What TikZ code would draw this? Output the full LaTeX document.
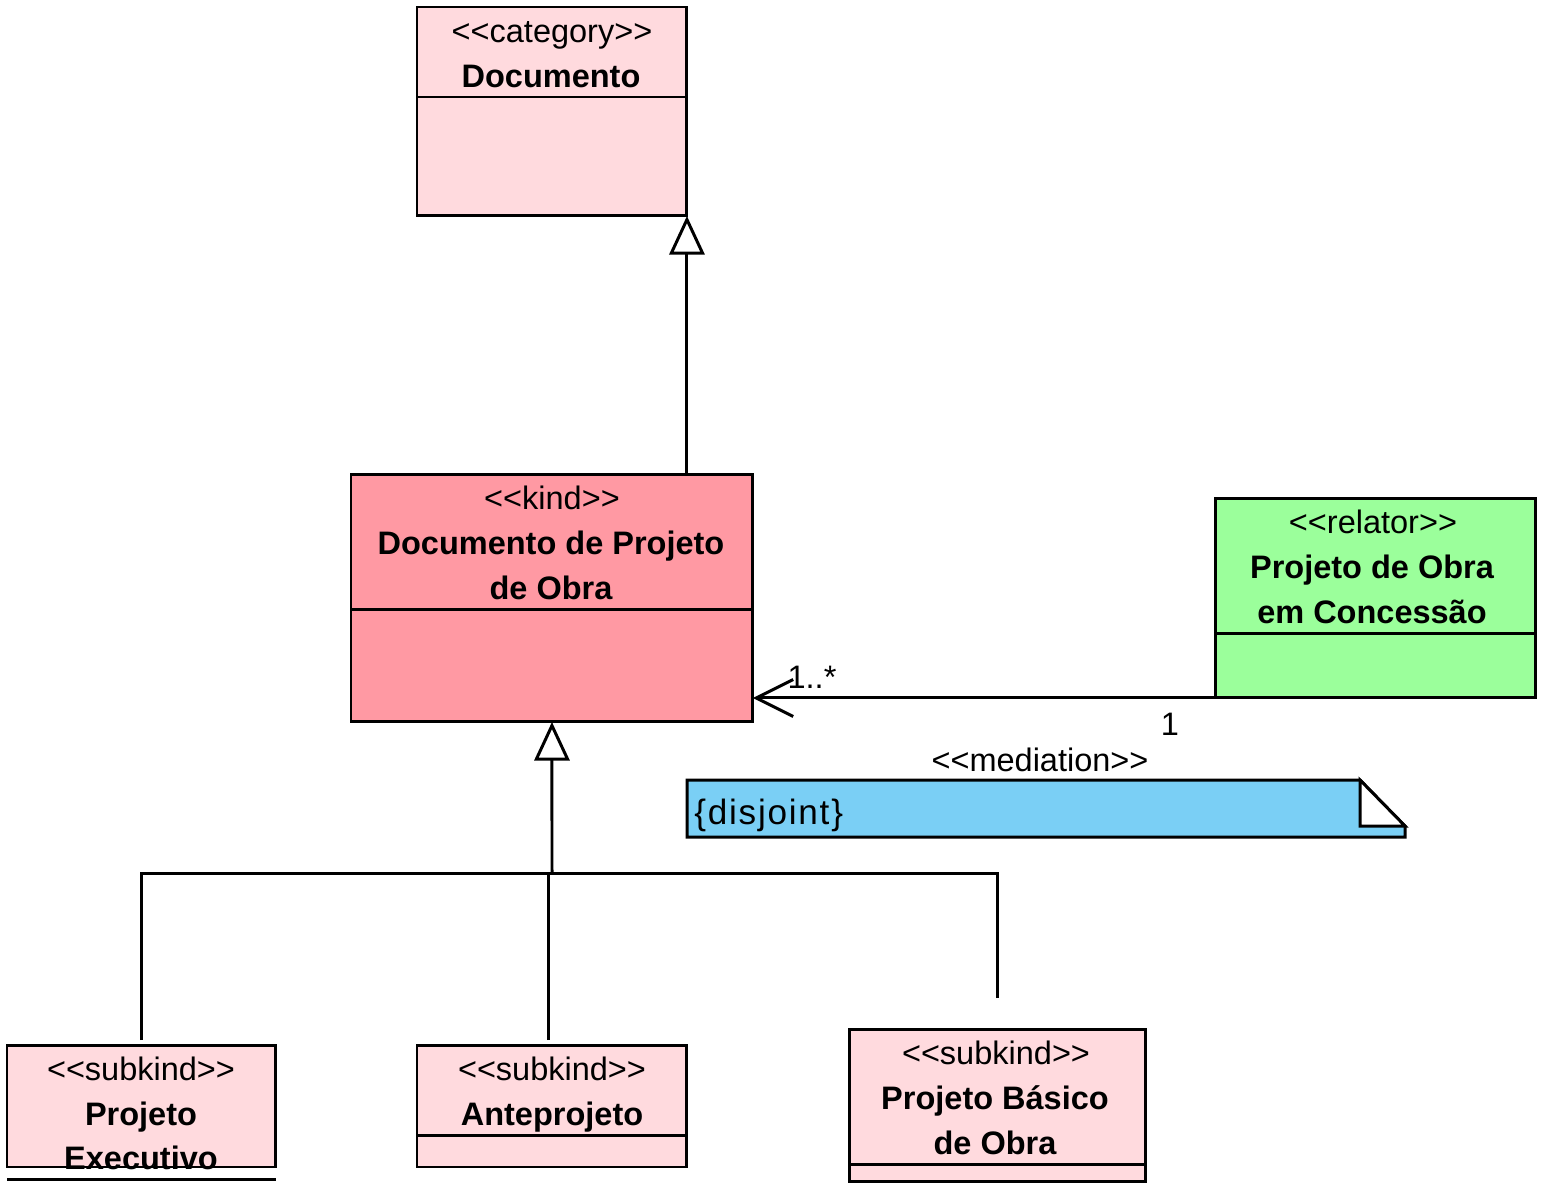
\documentclass[tikz,border=0pt]{standalone}
\usepackage{fontspec}
\setmainfont{Liberation Sans}[Ligatures=TeXOff]
\newfontfamily\notefont{Liberation Sans}[Ligatures=TeXOff,LetterSpace=5]
\usetikzlibrary{arrows.meta}

\definecolor{subpink}{RGB}{255,218,222}
\definecolor{kindpink}{RGB}{255,153,163}
\definecolor{relgreen}{RGB}{155,255,155}
\definecolor{noteblue}{RGB}{122,207,245}

\begin{document}
\begin{tikzpicture}[x=0.02cm,y=-0.02cm,
	every node/.style={font=\fontsize{18.5}{22}\selectfont},
	classbox/.style={draw,line width=1.7pt,anchor=north west,inner sep=0pt,outer sep=0pt},
	st/.style={anchor=base,inner sep=0pt},
	nm/.style={anchor=base,inner sep=0pt,font=\fontsize{18.5}{22}\selectfont\bfseries},
	conn/.style={line width=1.7pt},
	gen/.style={conn,-{Triangle[fill=white,length=22pt,width=20pt]}}]
	\useasboundingbox (0,0) rectangle (1548,1194);

	% classes
	\node[classbox,fill=subpink,minimum width=5.4cm,minimum height=4.18cm] (doc) at (417,7) {};
	\node[st] (doc-st) at (552,42) {<<category>>};
	\node[nm] (doc-nm) at (551,87) {Documento};
	\draw[conn] (doc.west |- 0,97) -- (doc.east |- 0,97);

	\node[classbox,fill=kindpink,minimum width=8.04cm,minimum height=4.96cm] (dpo) at (351,474) {};
	\node[st] (dpo-st) at (552,509) {<<kind>>};
	\node[nm] (dpo-nm) at (551,554) {Documento de Projeto};
	\node[nm] (dpo-nm2) at (551,599) {de Obra};
	\draw[conn] (dpo.west |- 0,609) -- (dpo.east |- 0,609);

	\node[classbox,fill=relgreen,minimum width=6.42cm,minimum height=4cm] (poc) at (1215,498) {};
	\node[st] (poc-st) at (1373,533) {<<relator>>};
	\node[nm] (poc-nm) at (1372,578) {Projeto de Obra};
	\node[nm] (poc-nm2) at (1372,623) {em Concessão};
	\draw[conn] (poc.west |- 0,633) -- (poc.east |- 0,633);

	\node[classbox,fill=subpink,minimum width=5.38cm,minimum height=2.44cm] (pex) at (7,1045) {};
	\node[st] (pex-st) at (141,1080) {<<subkind>>};
	\node[nm] (pex-nm) at (141,1125) {Projeto};
	\node[nm] (pex-nm2) at (141,1169) {Executivo};
	\draw[conn] (pex.south west) -- (pex.south east);
	\draw[conn] ([yshift=-0.26cm]pex.south west) -- ([yshift=-0.26cm]pex.south east);

	\node[classbox,fill=subpink,minimum width=5.4cm,minimum height=2.44cm] (ante) at (417,1045) {};
	\node[st] (ante-st) at (552,1080) {<<subkind>>};
	\node[nm] (ante-nm) at (552,1125) {Anteprojeto};
	\draw[conn] (ante.west |- 0,1135) -- (ante.east |- 0,1135);

	\node[classbox,fill=subpink,minimum width=5.94cm,minimum height=3.06cm] (pbo) at (849,1029) {};
	\node[st] (pbo-st) at (996,1064) {<<subkind>>};
	\node[nm] (pbo-nm) at (995,1109) {Projeto Básico};
	\node[nm] (pbo-nm2) at (995,1154) {de Obra};
	\draw[conn] (pbo.west |- 0,1164) -- (pbo.east |- 0,1164);

	% generalizations
	\draw[gen] (doc.south east |- dpo.north) -- (doc.south east);
	\coordinate (gs) at (552,873);
	\draw[gen] (gs) -- (dpo.south);
	\draw[conn,shorten <=0.1cm] (pex.north) |- (gs);
	\draw[conn,shorten <=0.62cm] (pbo.north) |- (gs);
	\draw[conn,shorten <=0.1cm] ([xshift=-0.06cm]ante.north) -- ([xshift=-0.06cm]ante.north |- gs);

	% mediation
	\draw[conn,-{Straight Barb[length=21pt,width=21pt]}] (poc.south west) -- (poc.south west -| dpo.east);
	\node[st] (med-many) at (812,688) {1..*};
	\node[st] (med-one) at (1170,735) {1};
	\node[st] (med-nm) at (1040,771) {<<mediation>>};

	% note
	\draw[conn,fill=noteblue] (687,780) -- (1360,780) -- (1405,826) -- (1405,837) -- (687,837) -- cycle;
	\draw[conn,fill=white] (1360,780) -- (1360,826) -- (1405,826) -- cycle;
	\node[anchor=base west,inner sep=0pt,font=\fontsize{20}{24}\notefont] (disj) at (694,824) {\{disjoint\}};
\end{tikzpicture}
\end{document}
